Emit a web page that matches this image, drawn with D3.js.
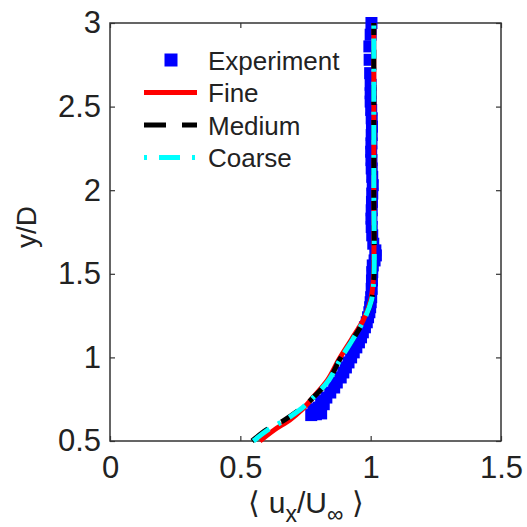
<!DOCTYPE html>
<html>
<head>
<meta charset="utf-8">
<script src="https://cdn.jsdelivr.net/npm/d3@7"></script>
<style>
  body { margin: 0; background: #fff; }
  text { font-family: Arial, "Liberation Sans", Helvetica, sans-serif; fill: #222; }
</style>
</head>
<body>
<div id="chart"></div>
<script>
// values
var expU = [0.772, 0.79, 0.81, 0.78, 0.80, 0.82, 0.81, 0.83, 0.845, 0.86, 0.87, 0.885, 0.895, 0.905, 0.915, 0.925,
  0.935, 0.945, 0.955, 0.963, 0.97, 0.978, 0.985, 0.99, 0.995, 0.998, 1.0,
  1.002, 1.004, 1.005, 1.006, 1.008, 1.015, 1.02, 1.018, 1.01, 1.006, 1.004, 1.003, 1.004, 1.005, 1.006, 1.008,
  1.006, 1.004, 1.003, 1.002, 1.003, 1.004, 1.005, 1.004, 1.002, 1.0, 1.0, 1.0, 0.998, 0.996, 0.995, 1.0, 1.003];
var expY = [0.655, 0.66, 0.665, 0.69, 0.70, 0.72, 0.74, 0.76, 0.79, 0.82, 0.85, 0.88, 0.91, 0.94, 0.97, 1.0,
  1.03, 1.06, 1.09, 1.12, 1.15, 1.18, 1.21, 1.24, 1.27, 1.30, 1.33,
  1.36, 1.41, 1.46, 1.51, 1.55, 1.58, 1.61, 1.64, 1.68, 1.73, 1.78, 1.83, 1.88, 1.93, 1.98, 2.03,
  2.08, 2.13, 2.18, 2.23, 2.28, 2.33, 2.38, 2.43, 2.48, 2.53, 2.58, 2.63, 2.70, 2.78, 2.86, 2.93, 3.0];

var curveY = [0.5, 0.566, 0.626, 0.685, 0.745, 0.865, 0.984, 1.104, 1.224, 1.343, 1.463, 2.0, 3.0];
var fineU   = [0.575, 0.63, 0.69, 0.735, 0.77, 0.835, 0.877, 0.925, 0.972, 1.0, 1.01, 1.012, 1.012];
var mediumU = [0.545, 0.60, 0.67, 0.725, 0.77, 0.84, 0.88, 0.93, 0.975, 1.003, 1.012, 1.012, 1.012];
var coarseU = [0.55, 0.605, 0.672, 0.727, 0.77, 0.84, 0.882, 0.93, 0.974, 1.003, 1.012, 1.012, 1.012];

var xTicks = [0, 0.5, 1, 1.5];
var yTicks = [0.5, 1, 1.5, 2, 2.5, 3];
var legendNames = ["Experiment", "Fine", "Medium", "Coarse"];

var width = 527, height = 527;
var plotLeft = 110, plotRight = 501, plotTop = 23, plotBottom = 441;

var svg = d3.select("#chart").append("svg")
    .attr("width", width)
    .attr("height", height);

var x = d3.scaleLinear().domain([0, 1.5]).range([plotLeft, plotRight]);
var y = d3.scaleLinear().domain([0.5, 3]).range([plotBottom, plotTop]);

// frame
svg.append("rect")
    .attr("x", plotLeft).attr("y", plotTop)
    .attr("width", plotRight - plotLeft).attr("height", plotBottom - plotTop)
    .attr("fill", "none").attr("stroke", "#333").attr("stroke-width", 1.5);

// axes, ticks pointing in
function styleAxis(g, fs) {
    g.select(".domain").remove();
    g.selectAll(".tick line").attr("stroke", "#333").attr("stroke-width", 1.2);
    g.selectAll(".tick text").style("font-size", fs + "px").attr("fill", "#222");
}
svg.append("g").attr("transform", "translate(0," + plotBottom + ")")
    .call(d3.axisBottom(x).tickValues(xTicks).tickSizeInner(-5).tickSizeOuter(0).tickPadding(15)
        .tickFormat(d3.format("")))
    .call(styleAxis, 31);
svg.append("g").attr("transform", "translate(0," + plotTop + ")")
    .call(d3.axisTop(x).tickValues(xTicks).tickSizeInner(-5).tickSizeOuter(0).tickFormat(""))
    .call(styleAxis, 31);
svg.append("g").attr("transform", "translate(" + plotLeft + ",0)")
    .call(d3.axisLeft(y).tickValues(yTicks).tickSizeInner(-5).tickSizeOuter(0).tickPadding(9)
        .tickFormat(d3.format("")))
    .call(styleAxis, 31);
svg.append("g").attr("transform", "translate(" + plotRight + ",0)")
    .call(d3.axisRight(y).tickValues(yTicks).tickSizeInner(-5).tickSizeOuter(0).tickFormat(""))
    .call(styleAxis, 31);

// experiment markers
var expData = expU.map(function(u, i) { return {u: u, y: expY[i]}; });
var ms = 12;
svg.append("g").selectAll("rect")
    .data(expData)
    .enter()
    .append("rect")
    .attr("x", function(d) { return x(d.u) - ms / 2; })
    .attr("y", function(d) { return y(d.y) - ms / 2; })
    .attr("width", ms).attr("height", ms)
    .attr("fill", "#0000ff");

// simulation lines
var line = d3.line()
    .x(function(d) { return x(d.u); })
    .y(function(d) { return y(d.y); })
    .curve(d3.curveCatmullRom);

var series = [
    {u: fineU, color: "#ff0000", dash: null},
    {u: mediumU, color: "#000000", dash: "20,15"},
    {u: coarseU, color: "#00ffff", dash: "20,10,3,10"}
];
series.forEach(function(s) {
    var pts = s.u.map(function(u, i) { return {u: u, y: curveY[i]}; });
    svg.append("path")
        .datum(pts)
        .attr("d", line)
        .attr("fill", "none")
        .attr("stroke", s.color)
        .attr("stroke-width", 5)
        .attr("stroke-dasharray", s.dash);
});

// legend
var lg = svg.append("g");
var ly = [60, 92.5, 125, 157.5];
lg.append("rect").attr("x", 171 - 6.5).attr("y", ly[0] - 6.5)
    .attr("width", 13).attr("height", 13).attr("fill", "#0000ff");
var legDash = [null, "22,16", "3,12,21,12"];
var legCol = ["#ff0000", "#000000", "#00ffff"];
for (var k = 0; k < 3; k++) {
    lg.append("line")
        .attr("x1", 144).attr("x2", 197)
        .attr("y1", ly[k + 1]).attr("y2", ly[k + 1])
        .attr("stroke", legCol[k]).attr("stroke-width", 5)
        .attr("stroke-dasharray", legDash[k]);
}
lg.selectAll("text")
    .data(legendNames)
    .enter()
    .append("text")
    .attr("x", 208)
    .attr("y", function(d, i) { return ly[i] + 9.5; })
    .style("font-size", "26px")
    .text(function(d) { return d; });

// axis titles
var xl = svg.append("text")
    .attr("x", 306).attr("y", 513)
    .attr("text-anchor", "middle")
    .style("font-size", "30px");
xl.append("tspan").text("\u27E8 u");
xl.append("tspan").attr("dy", 9).style("font-size", "23px").text("x");
xl.append("tspan").attr("dy", -9).text("/U");
xl.append("tspan").attr("dy", 9).style("font-size", "23px").text("\u221E");
xl.append("tspan").attr("dy", -9).text(" \u27E9");

svg.append("text")
    .attr("transform", "translate(36,227) rotate(-90)")
    .attr("text-anchor", "middle")
    .style("font-size", "28px")
    .text("y/D");
</script>
</body>
</html>
